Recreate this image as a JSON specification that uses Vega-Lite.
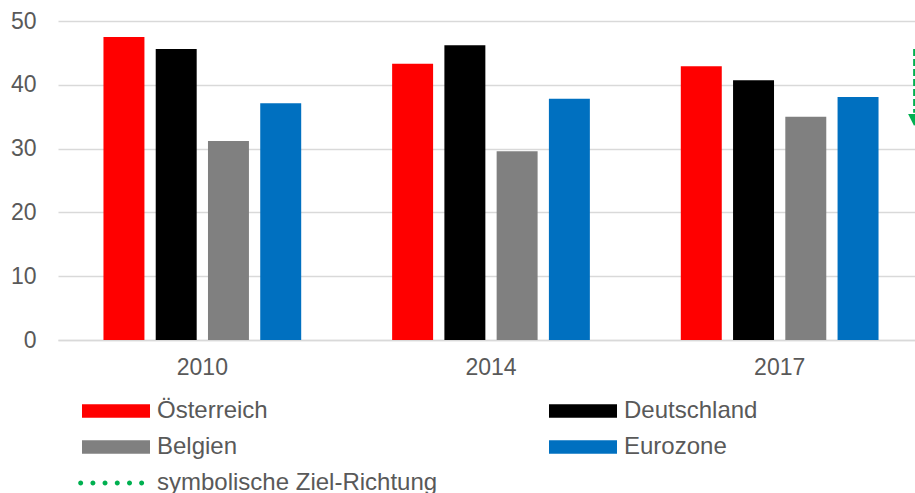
{
  "$schema": "https://vega.github.io/schema/vega-lite/v6.json",
  "width": 857,
  "height": 319,
  "autosize": "none",
  "padding": {"left": 58, "top": 21, "right": 0, "bottom": 153},
  "background": "white",
  "config": {"view": {"stroke": null}, "font": "Liberation Sans"},
  "datasets": {
    "bars": [
      {"jahr": "2010", "land": "Österreich", "wert": 47.5},
      {"jahr": "2010", "land": "Deutschland", "wert": 45.6},
      {"jahr": "2010", "land": "Belgien", "wert": 31.2},
      {"jahr": "2010", "land": "Eurozone", "wert": 37.1},
      {"jahr": "2014", "land": "Österreich", "wert": 43.3},
      {"jahr": "2014", "land": "Deutschland", "wert": 46.2},
      {"jahr": "2014", "land": "Belgien", "wert": 29.6},
      {"jahr": "2014", "land": "Eurozone", "wert": 37.8},
      {"jahr": "2017", "land": "Österreich", "wert": 42.9},
      {"jahr": "2017", "land": "Deutschland", "wert": 40.7},
      {"jahr": "2017", "land": "Belgien", "wert": 35.0},
      {"jahr": "2017", "land": "Eurozone", "wert": 38.1}
    ],
    "ziel": [{"pos": 0.999, "oben": 45.6, "unten": 35.6, "spitze": 34.5}]
  },
  "layer": [
    {
      "data": {"name": "bars"},
      "mark": {"type": "bar"},
      "encoding": {
        "x": {
          "field": "jahr", "type": "nominal",
          "scale": {"range": [0, 866], "paddingInner": 0.315, "paddingOuter": 0.1575},
          "axis": {"title": null, "labelAngle": 0, "ticks": false, "domainColor": "#d9d9d9", "domainWidth": 1.5,
                   "labelFontSize": 23, "labelColor": "#595959", "labelPadding": 16, "labelFont": "Liberation Sans"}
        },
        "xOffset": {
          "field": "land", "type": "nominal",
          "sort": ["Österreich", "Deutschland", "Belgien", "Eurozone"],
          "scale": {"paddingInner": 0.216, "paddingOuter": 0}
        },
        "y": {
          "field": "wert", "type": "quantitative",
          "scale": {"domain": [0, 50], "nice": false},
          "axis": {"title": null, "values": [0, 10, 20, 30, 40, 50], "domain": false, "ticks": false,
                   "gridColor": "#d9d9d9", "gridWidth": 1.5, "labelFontSize": 23, "labelColor": "#595959",
                   "labelPadding": 22, "labelFont": "Liberation Sans"}
        },
        "color": {
          "field": "land", "type": "nominal",
          "scale": {
            "domain": ["Österreich", "Deutschland", "Belgien", "Eurozone", "symbolische Ziel-Richtung"],
            "range": ["#ff0000", "#000000", "#808080", "#0070c0", "#00b050"]
          },
          "legend": {
            "title": null, "orient": "none", "legendX": 24, "legendY": 378, "direction": "horizontal",
            "columns": 2, "columnPadding": 111, "rowPadding": 12, "padding": 0,
            "symbolSize": 576, "symbolStrokeWidth": 0,
            "labelFontSize": 24, "labelColor": "#595959", "labelFont": "Liberation Sans",
            "labelOffset": 51, "labelLimit": 500,
            "encode": {
              "symbols": {
                "update": {
                  "shape": {"signal": "datum.value === 'symbolische Ziel-Richtung' ? 'M-1.318,0a0.208,0.208 0 1,0 0.416,0a0.208,0.208 0 1,0 -0.416,0ZM-0.298,0a0.208,0.208 0 1,0 0.416,0a0.208,0.208 0 1,0 -0.416,0ZM0.712,0a0.208,0.208 0 1,0 0.416,0a0.208,0.208 0 1,0 -0.416,0ZM1.732,0a0.208,0.208 0 1,0 0.416,0a0.208,0.208 0 1,0 -0.416,0ZM2.752,0a0.208,0.208 0 1,0 0.416,0a0.208,0.208 0 1,0 -0.416,0ZM3.762,0a0.208,0.208 0 1,0 0.416,0a0.208,0.208 0 1,0 -0.416,0Z' : 'M-1,-0.558L4.667,-0.558L4.667,0.558L-1,0.558Z'"}
                }
              }
            }
          }
        }
      }
    },
    {
      "data": {"name": "ziel"},
      "mark": {"type": "rule", "color": "#00b050", "strokeWidth": 2, "strokeDash": [7, 3]},
      "encoding": {
        "x": {"field": "pos", "type": "quantitative", "scale": {"domain": [0, 1]}, "axis": null},
        "y": {"field": "oben", "type": "quantitative"},
        "y2": {"field": "unten"}
      }
    },
    {
      "data": {"name": "ziel"},
      "mark": {"type": "point", "shape": "M-1,-1L1,-1L0,1Z", "size": 144, "filled": true, "color": "#00b050", "opacity": 1},
      "encoding": {
        "x": {"field": "pos", "type": "quantitative", "scale": {"domain": [0, 1]}, "axis": null},
        "y": {"field": "spitze", "type": "quantitative"}
      }
    }
  ],
  "resolve": {"scale": {"x": "independent"}}
}
